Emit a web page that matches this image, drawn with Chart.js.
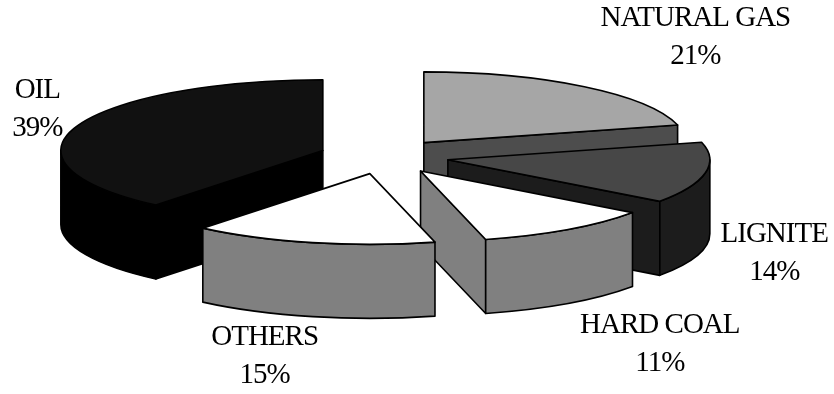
<!DOCTYPE html>
<html>
<head>
<meta charset="utf-8">
<script src="https://cdn.jsdelivr.net/npm/chart.js@4.4.0/dist/chart.umd.min.js"></script>
<style>
  html, body { margin: 0; padding: 0; background: #fff; }
  #wrap { width: 834px; height: 394px; }
</style>
</head>
<body>
<div id="wrap"><canvas id="energy-chart" width="834" height="394"></canvas></div>
<script>
var fuels = ["NATURAL GAS", "LIGNITE", "HARD COAL", "OTHERS", "OIL"];
var shares = [21, 14, 11, 15, 39];

var topColors = ["#a6a6a6", "#474747", "#ffffff", "#ffffff", "#111111"];
var sideColors = ["#4d4d4d", "#1c1c1c", "#808080", "#808080", "#000000"];
// where each label sits, relative to the outer rim of its slice
var labelShift = [[111, -49], [69, 66], [92, 54], [-48, 42], [-39, -17]];

var TILT = 0.27;     // vertical squash of the pie top
var DEPTH = 74;      // height of the sides
var EXPLODE = 65;    // how far each slice is pulled out

function sliceGeom(arc) {
    var p = arc.getProps(['x', 'y', 'startAngle', 'endAngle', 'outerRadius'], true);
    var mid = (p.startAngle + p.endAngle) / 2;
    return {
        x: p.x, y: p.y, s: p.startAngle, e: p.endAngle, r: p.outerRadius, mid: mid,
        cx: p.x + Math.cos(mid) * EXPLODE,
        cy: p.y + Math.sin(mid) * EXPLODE * TILT
    };
}

function rimPoint(g, a) {
    return [g.cx + g.r * Math.cos(a), g.cy + g.r * TILT * Math.sin(a)];
}

function drawFace(ctx, g, a) {
    var p = rimPoint(g, a);
    ctx.beginPath();
    ctx.moveTo(g.cx, g.cy);
    ctx.lineTo(p[0], p[1]);
    ctx.lineTo(p[0], p[1] + DEPTH);
    ctx.lineTo(g.cx, g.cy + DEPTH);
    ctx.closePath();
    ctx.fill();
    ctx.stroke();
}

function drawWall(ctx, g) {
    var a1 = Math.max(g.s, 0), a2 = Math.min(g.e, Math.PI);
    if (a2 <= a1) return;
    ctx.beginPath();
    ctx.ellipse(g.cx, g.cy, g.r, g.r * TILT, 0, a1, a2, false);
    ctx.ellipse(g.cx, g.cy + DEPTH, g.r, g.r * TILT, 0, a2, a1, true);
    ctx.closePath();
    ctx.fill();
    ctx.stroke();
}

var pie3d = {
    id: 'pie3d',
    beforeDatasetsDraw: function(chart) {
        var ctx = chart.ctx;
        var arcs = chart.getDatasetMeta(0).data;
        var geoms = arcs.map(sliceGeom);

        // labels go first, the pie is painted over them
        ctx.save();
        ctx.fillStyle = '#000';
        ctx.font = '29px "Liberation Serif", "Times New Roman", serif';
        ctx.textAlign = 'center';
        ctx.textBaseline = 'middle';
        if ('letterSpacing' in ctx) ctx.letterSpacing = '-1px';
        geoms.forEach(function(g, i) {
            var p = rimPoint(g, g.mid);
            var lx = p[0] + labelShift[i][0];
            var ly = p[1] + DEPTH * Math.max(0, Math.sin(g.mid)) + labelShift[i][1];
            ctx.fillText(fuels[i], lx, ly - 19);
            ctx.fillText(shares[i] + '%', lx, ly + 19);
        });
        ctx.restore();

        var order = geoms.map(function(g, i) { return i; });
        order.sort(function(a, b) { return Math.sin(geoms[a].mid) - Math.sin(geoms[b].mid); });

        ctx.save();
        ctx.lineWidth = 1.6;
        ctx.lineJoin = 'round';
        ctx.strokeStyle = '#000';
        order.forEach(function(i) {
            var g = geoms[i];
            ctx.fillStyle = sideColors[i];
            if (Math.cos(g.s) < -1e-6) drawFace(ctx, g, g.s);
            if (Math.cos(g.e) > 1e-6) drawFace(ctx, g, g.e);
            drawWall(ctx, g);

            // top of the slice, drawn by the arc element itself in a squashed frame
            ctx.save();
            ctx.translate(g.cx, g.cy);
            ctx.scale(1, TILT);
            ctx.translate(-g.x, -g.y);
            arcs[i].draw(ctx, chart.chartArea);
            ctx.restore();

            ctx.beginPath();
            ctx.moveTo(g.cx, g.cy);
            ctx.ellipse(g.cx, g.cy, g.r, g.r * TILT, 0, g.s, g.e, false);
            ctx.closePath();
            ctx.stroke();
        });
        ctx.restore();
        return false;
    }
};

var ctx = document.getElementById('energy-chart');
var energyChart = new Chart(ctx, {
    type: 'pie',
    data: {
        labels: fuels,
        datasets: [{
            data: shares,
            backgroundColor: topColors,
            borderWidth: 0
        }]
    },
    options: {
        responsive: false,
        animation: false,
        events: [],
        radius: 262,
        layout: { padding: { left: 0, right: 66, top: 0, bottom: 81 } },
        plugins: {
            legend: { display: false },
            tooltip: { enabled: false }
        }
    },
    plugins: [pie3d]
});
</script>
</body>
</html>
